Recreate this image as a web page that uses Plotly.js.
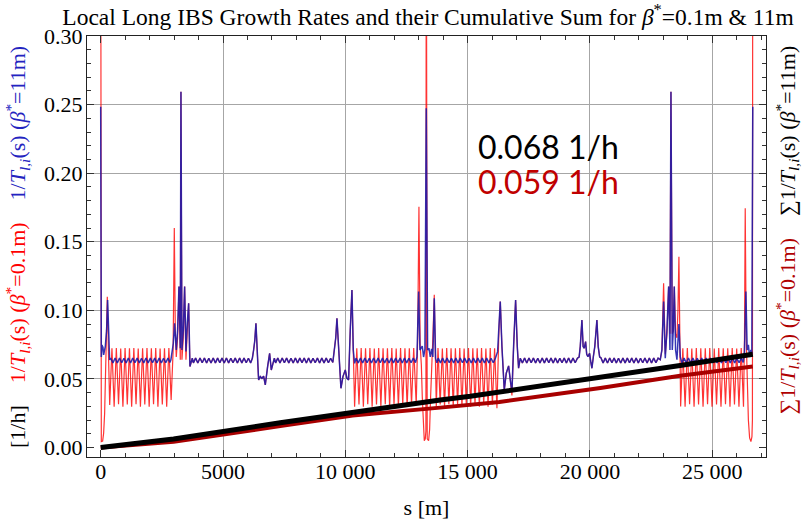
<!DOCTYPE html>
<html><head><meta charset="utf-8">
<script src="https://cdn.plot.ly/plotly-3.0.1.min.js"></script>
<style>html,body{margin:0;padding:0;background:#fff}#chart{width:802px;height:520px}</style>
</head><body><div id="chart"></div>
<script>
// ---------- beta*=11m local growth rate (blue), by lattice section ----------
const sB_ip1a = [0,25,52,93,120,188,240,283,338,365];
const yB_ip1a = [0.2485,0.066,0.0748,0.073,0.0675,0.0736,0.085,0.1076,0.0736,0.0639];
const sB_arc12 = [410,500,590,680,770,860,950,1040,1130,1220,1310,1400,1490,1580,1670,1760,1850,1940,2030,2120,2210,2300,2390,2480,2570,2660,2750,2830];
const yB_arc12 = [0.0652,0.0617,0.0653,0.0616,0.0652,0.0618,0.0651,0.0617,0.0653,0.0616,0.0652,0.0618,0.0652,0.0617,0.0651,0.0616,0.0653,0.0617,0.0652,0.0618,0.0652,0.0616,0.0653,0.0617,0.0651,0.0618,0.0652,0.0620];
const sB_ir2 = [2870,2913,2970,3022,3090,3145,3200,3254,3281,3322,3377,3431,3486,3540,3595,3649,3704,3745];
const yB_ir2 = [0.064,0.0697,0.076,0.0906,0.0711,0.0857,0.1173,0.0724,0.2594,0.0711,0.0857,0.1173,0.07,0.0906,0.1052,0.059,0.063,0.0652];
const sB_arc23 = [3790,3880,3970,4060,4150,4240,4330,4420,4510,4600,4690,4780,4870,4960,5050,5140,5230,5320,5410,5500,5590,5680,5770,5860,5950,6040,6130,6200];
const yB_arc23 = [0.0617,0.0652,0.0616,0.0653,0.0618,0.0652,0.0617,0.0651,0.0616,0.0653,0.0617,0.0652,0.0618,0.0652,0.0616,0.0653,0.0617,0.0651,0.0618,0.0652,0.0616,0.0653,0.0617,0.0652,0.0618,0.0651,0.0617,0.0650];
const sB_ir3 = [6252,6300,6347,6402,6456,6524,6592,6660,6729,6824,6906,6974,7040,7100];
const yB_ir3 = [0.0711,0.078,0.0906,0.071,0.0493,0.0517,0.0505,0.052,0.0456,0.059,0.0687,0.0565,0.062,0.0652];
const sB_arc34 = [7150,7240,7330,7420,7510,7600,7690,7780,7870,7960,8050,8140,8230,8320,8410,8500,8590,8680,8770,8860,8950,9040,9130,9220,9310,9400,9490];
const yB_arc34 = [0.0617,0.0652,0.0616,0.0653,0.0618,0.0652,0.0617,0.0651,0.0616,0.0653,0.0617,0.0652,0.0618,0.0652,0.0616,0.0653,0.0617,0.0651,0.0618,0.0652,0.0616,0.0653,0.0617,0.0652,0.0618,0.0651,0.0620];
const sB_ir4 = [9563,9610,9659,9727,9822,9904,9999,10067,10135,10203,10272,10326];
const yB_ir4 = [0.0711,0.08,0.0942,0.0711,0.0432,0.0517,0.0566,0.0505,0.0493,0.0857,0.1149,0.0711];
const sB_arc45 = [10381,10440,10530,10620,10710,10800,10890,10980,11070,11160,11250,11340,11430,11520,11610,11700,11790,11880,11970,12060,12150,12240,12330,12420,12510,12600,12690,12780,12870];
const yB_arc45 = [0.0614,0.0652,0.0617,0.0653,0.0616,0.0652,0.0618,0.0651,0.0617,0.0653,0.0616,0.0652,0.0618,0.0652,0.0617,0.0651,0.0616,0.0653,0.0617,0.0652,0.0618,0.0652,0.0616,0.0653,0.0617,0.0651,0.0618,0.0652,0.0619];
const sB_ip5 = [12930,12998,13052,13100,13147,13201,13256,13310,13365,13419,13474,13528,13580,13638,13692,13747];
const yB_ip5 = [0.066,0.1137,0.0711,0.0724,0.074,0.066,0.0717,0.2473,0.0711,0.0724,0.066,0.072,0.066,0.1088,0.065,0.0617];
const sB_arc56 = [13800,13890,13980,14070,14160,14250,14340,14430,14520,14610,14700,14790,14880,14970,15060,15150,15240,15330,15420,15510,15600,15690,15780,15870,15960,16050,16140];
const yB_arc56 = [0.0652,0.0617,0.0653,0.0616,0.0652,0.0618,0.0651,0.0617,0.0653,0.0616,0.0652,0.0618,0.0652,0.0617,0.0651,0.0616,0.0653,0.0617,0.0652,0.0618,0.0652,0.0616,0.0653,0.0617,0.0651,0.0618,0.0652];
const sB_ir6 = [16227,16281,16336,16404,16499,16581,16677,16745,16813,16881,16963,17031,17085,17154];
const yB_ir6 = [0.0699,0.0857,0.1064,0.0736,0.042,0.0542,0.0595,0.0493,0.0408,0.0736,0.1076,0.0736,0.0578,0.0651];
const sB_arc67 = [17240,17330,17420,17510,17600,17690,17780,17870,17960,18050,18140,18230,18320,18410,18500,18590,18680,18770,18860,18950,19040,19130,19220,19310,19400,19490];
const yB_arc67 = [0.0617,0.0652,0.0616,0.0653,0.0618,0.0652,0.0617,0.0651,0.0616,0.0653,0.0617,0.0652,0.0618,0.0652,0.0616,0.0653,0.0617,0.0651,0.0618,0.0652,0.0616,0.0653,0.0617,0.0652,0.0618,0.0651];
const sB_ir7 = [19560,19606,19674,19724,19770,19824,19870,19920,19988,20040,20083,20140,20200,20287,20340,20400,20450];
const yB_ir7 = [0.066,0.0736,0.093,0.0736,0.0724,0.0772,0.068,0.0663,0.0687,0.062,0.0578,0.066,0.0736,0.093,0.0736,0.066,0.0655];
const sB_arc78 = [20540,20630,20720,20810,20900,20990,21080,21170,21260,21350,21440,21530,21620,21710,21800,21890,21980,22070,22160,22250,22340,22430,22520,22610,22700,22790];
const yB_arc78 = [0.0617,0.0652,0.0616,0.0653,0.0618,0.0652,0.0617,0.0651,0.0616,0.0653,0.0617,0.0652,0.0618,0.0652,0.0616,0.0653,0.0617,0.0651,0.0618,0.0652,0.0616,0.0653,0.0617,0.0652,0.0618,0.0651];
const sB_ir8 = [22877,22945,23014,23082,23150,23219,23273,23314,23368,23410,23450,23504,23559,23600,23640,23695,23764];
const yB_ir8 = [0.064,0.0711,0.1064,0.0651,0.0857,0.1173,0.0711,0.2594,0.0711,0.0857,0.1173,0.0711,0.064,0.08,0.09,0.066,0.0617];
const sB_arc81 = [23850,23940,24030,24120,24210,24300,24390,24480,24570,24660,24750,24840,24930,25020,25110,25200,25290,25380,25470,25560,25650,25740,25830,25920,26010,26100,26190,26270];
const yB_arc81 = [0.0652,0.0617,0.0653,0.0616,0.0652,0.0618,0.0651,0.0617,0.0653,0.0616,0.0652,0.0618,0.0652,0.0617,0.0651,0.0616,0.0653,0.0617,0.0652,0.0618,0.0652,0.0616,0.0653,0.0617,0.0651,0.0618,0.0652,0.0620];
const sB_ip1b = [26320,26378,26430,26480,26530,26580,26620,26659];
const yB_ip1b = [0.07,0.1137,0.0711,0.0748,0.066,0.0711,0.068,0.2485];

// ---------- beta*=0.1m local growth rate (red): sections that differ from beta*=11m ----------
const sR_ip1a = [0,25,79,120,161,202,243,270,311,338,368];
const yR_ip1a = [0.45,0.0043,0.0047,0.0104,0.025,0.0542,0.093,0.11,0.0736,0.042,0.031];
const sR_arc12 = [460,550,639,729,818,908,997,1087,1176,1266,1355,1445,1534,1624,1713,1803,1892,1982,2071,2161,2250,2340,2429,2519,2608,2698,2787,2880];
const yR_arc12 = [0.0724,0.0298,0.0726,0.0315,0.0722,0.0298,0.0725,0.0314,0.0723,0.0297,0.0726,0.0315,0.0722,0.0298,0.0724,0.0313,0.0725,0.0298,0.0723,0.0315,0.0726,0.0297,0.0722,0.0314,0.0724,0.0298,0.0725,0.0347];
const sR_ir2 = [2960,3009,3050,3090,3145,3200,3254,3281,3322,3377,3431,3486,3540,3595,3649,3704,3745];
const yR_ir2 = [0.07,0.16,0.085,0.066,0.08,0.1173,0.064,0.2594,0.064,0.08,0.1173,0.064,0.085,0.1052,0.059,0.063,0.0652];
const sR_arc45 = [10381,10470,10560,10649,10739,10828,10918,11007,11097,11186,11276,11365,11455,11544,11634,11723,11813,11902,11992,12081,12171,12260,12350,12439,12529,12618,12708,12797,12900];
const yR_arc45 = [0.0298,0.0724,0.0314,0.0726,0.0298,0.0723,0.0315,0.0725,0.0297,0.0722,0.0314,0.0726,0.0298,0.0724,0.0315,0.0723,0.0298,0.0725,0.0313,0.0722,0.0298,0.0726,0.0315,0.0724,0.0297,0.0723,0.0314,0.0725,0.031];
const sR_ip5 = [12960,13011,13060,13110,13147,13188,13229,13270,13296,13310,13324,13350,13406,13447,13488,13528,13580,13638,13680,13720];
const yR_ip5 = [0.08,0.1756,0.075,0.06,0.037,0.013,0.005,0.0063,0.012,0.45,0.012,0.0063,0.005,0.013,0.037,0.064,0.08,0.1113,0.07,0.0298];
const sR_arc56 = [13790,13879,13968,14057,14146,14235,14324,14413,14502,14591,14680,14769,14858,14947,15036,15125,15214,15303,15392,15481,15570,15659,15748,15837,15926,16015,16104,16200];
const yR_arc56 = [0.0725,0.0314,0.0722,0.0298,0.0726,0.0315,0.0723,0.0297,0.0724,0.0314,0.0725,0.0298,0.0722,0.0315,0.0726,0.0298,0.0723,0.0314,0.0724,0.0297,0.0725,0.0315,0.0722,0.0298,0.0726,0.0314,0.0723,0.0286];
const sR_ir6 = [16281,16336,16404,16499,16581,16677,16745,16813,16881,16963,17031,17085,17154];
const yR_ir6 = [0.0857,0.1064,0.0736,0.042,0.0542,0.0595,0.0493,0.038,0.0736,0.1076,0.0736,0.0578,0.0651];
const sR_ir8 = [22877,22945,23014,23082,23150,23219,23273,23314,23368,23410,23450,23504,23559,23600,23640,23710];
const yR_ir8 = [0.064,0.0711,0.1198,0.068,0.083,0.1173,0.083,0.2594,0.083,0.085,0.1173,0.083,0.08,0.1,0.139,0.03];
const sR_arc81 = [23800,23892,23984,24076,24167,24259,24351,24443,24534,24626,24718,24810,24901,24993,25085,25177,25268,25360,25452,25544,25635,25727,25819,25911,26002,26094,26186,26280];
const yR_arc81 = [0.0723,0.0298,0.0725,0.0315,0.0722,0.0297,0.0726,0.0314,0.0724,0.0298,0.0723,0.0315,0.0725,0.0298,0.0722,0.0314,0.0726,0.0297,0.0724,0.0315,0.0723,0.0298,0.0725,0.0314,0.0722,0.0298,0.0726,0.0298];
const sR_ip1b = [26320,26351,26390,26430,26480,26530,26583,26625,26645,26659];
const yR_ip1b = [0.08,0.1745,0.08,0.045,0.02,0.007,0.0043,0.008,0.02,0.45];

// ---------- cumulative sums ----------
const sCum = [0,2980,7340,10300,13880,15110,16300,20430,22060,23690,26659];
const yCum11 = [0,0.0062,0.0181,0.0258,0.0347,0.0374,0.0404,0.0507,0.0548,0.0598,0.068];
const yCum01 = [0,0.0043,0.0156,0.0233,0.0291,0.031,0.0332,0.0434,0.0482,0.0524,0.059];

// ---------- axes ticks / labels ----------
const xTickVals = [0,5000,10000,15000,20000,25000];
const xTickText = ['0','5000','10 000','15 000','20 000','25 000'];
const xGridVals = [5000,10000,15000,20000,25000];
const yTickVals = [0,0.05,0.10,0.15,0.20,0.25,0.30];
const yTickText = ['0.00','0.05','0.10','0.15','0.20','0.25','0.30'];
const yGridVals = [0.05,0.10,0.15,0.20,0.25];
const totals = ['0.068 1/h','0.059 1/h'];

const sBlue = [].concat(sB_ip1a,sB_arc12,sB_ir2,sB_arc23,sB_ir3,sB_arc34,sB_ir4,sB_arc45,sB_ip5,sB_arc56,sB_ir6,sB_arc67,sB_ir7,sB_arc78,sB_ir8,sB_arc81,sB_ip1b);
const yBlue = [].concat(yB_ip1a,yB_arc12,yB_ir2,yB_arc23,yB_ir3,yB_arc34,yB_ir4,yB_arc45,yB_ip5,yB_arc56,yB_ir6,yB_arc67,yB_ir7,yB_arc78,yB_ir8,yB_arc81,yB_ip1b);
const sRed = [].concat(sR_ip1a,sR_arc12,sR_ir2,sB_arc23,sB_ir3,sB_arc34,sB_ir4,sR_arc45,sR_ip5,sR_arc56,sR_ir6,sB_arc67,sB_ir7,sB_arc78,sR_ir8,sR_arc81,sR_ip1b);
const yRed = [].concat(yR_ip1a,yR_arc12,yR_ir2,yB_arc23,yB_ir3,yB_arc34,yB_ir4,yR_arc45,yR_ip5,yR_arc56,yR_ir6,yB_arc67,yB_ir7,yB_arc78,yR_ir8,yR_arc81,yR_ip1b);

const SERIF = 'Liberation Serif, Times New Roman, serif';
const XR = [-560, 27200];
const YR = [-0.0069, 0.300];
const T = '1/<i>T</i><sub><i>l,i</i></sub>(s)';
const B = '(<i>β</i><sup>*</sup>=';
const NB = '\u00a0\u00a0\u00a0\u00a0';

const traces = [
  {x: sRed, y: yRed, type: 'scatter', mode: 'lines', xaxis: 'x', yaxis: 'y',
   line: {color: 'rgba(255,0,0,0.8)', width: 1.2}, hoverinfo: 'skip'},
  {x: sBlue, y: yBlue, type: 'scatter', mode: 'lines', xaxis: 'x', yaxis: 'y',
   line: {color: 'rgba(25,25,170,0.88)', width: 1.5}, hoverinfo: 'skip'},
  {x: sCum, y: yCum01, type: 'scatter', mode: 'lines', xaxis: 'x2', yaxis: 'y2',
   line: {color: '#a80000', width: 4}, hoverinfo: 'skip'},
  {x: sCum, y: yCum11, type: 'scatter', mode: 'lines', xaxis: 'x2', yaxis: 'y2',
   line: {color: '#000000', width: 5}, hoverinfo: 'skip'}
];

const tickCommon = {
  ticks: 'inside', ticklen: 7, tickwidth: 1, tickcolor: '#333',
  showline: true, linecolor: '#222', linewidth: 1, mirror: 'ticks',
  showgrid: false, zeroline: false,
  tickfont: {family: SERIF, size: 22, color: '#000'}
};

const layout = {
  width: 802, height: 520,
  margin: {l: 87, r: 36, t: 36, b: 63, pad: 0},
  paper_bgcolor: '#ffffff', plot_bgcolor: '#ffffff',
  showlegend: false,
  hovermode: false,
  title: {
    text: 'Local Long IBS Growth Rates and their Cumulative Sum for <i>β</i><sup>*</sup>=0.1m &amp; 11m',
    font: {family: SERIF, size: 23.5, color: '#000'},
    xref: 'container', x: 428/802, xanchor: 'center',
    yref: 'container', y: 1 - 17/520, yanchor: 'middle'
  },
  xaxis: Object.assign({}, tickCommon, {
    range: XR, tickmode: 'array', tickvals: xTickVals, ticktext: xTickText,
    minor: {tickmode: 'linear', tick0: 0, dtick: 1000, ticks: 'inside', ticklen: 4, tickcolor: '#333', showgrid: false},
    ticklabelstandoff: -5,
    title: {text: 's [m]', font: {family: SERIF, size: 22, color: '#000'}, standoff: 20},
    automargin: false
  }),
  yaxis: Object.assign({}, tickCommon, {
    range: YR, tickmode: 'array', tickvals: yTickVals, ticktext: yTickText,
    minor: {tickmode: 'linear', tick0: 0, dtick: 0.01, ticks: 'inside', ticklen: 4, tickcolor: '#333', showgrid: false},
    ticklabelstandoff: -1,
    automargin: false
  }),
  xaxis2: {
    overlaying: 'x', anchor: 'y2', range: XR, tickmode: 'array', tickvals: xGridVals,
    showgrid: true, gridcolor: '#a6a6a6', gridwidth: 1, ticks: '', showticklabels: false,
    showline: false, zeroline: false
  },
  yaxis2: {
    overlaying: 'y', anchor: 'x2', side: 'right', range: YR, tickmode: 'array', tickvals: yGridVals,
    showgrid: true, gridcolor: '#a6a6a6', gridwidth: 1, ticks: '', showticklabels: false,
    showline: false, zeroline: false
  },
  annotations: [
    {xref: 'paper', yref: 'paper', x: (17-87)/679, y: (457-247)/421, xanchor: 'center', yanchor: 'middle',
     textangle: -90, showarrow: false, font: {family: SERIF, size: 22, color: '#000'},
     text: '[1/h]' + NB + '<span style="color:#ff0000">' + T + ' ' + B + '0.1m)</span>' + NB +
           '<span style="color:#2323c0">' + T + ' ' + B + '11m)</span>'},
    {xref: 'paper', yref: 'paper', x: (786.5-87)/679, y: (457-230)/421, xanchor: 'center', yanchor: 'middle',
     textangle: -90, showarrow: false, font: {family: SERIF, size: 22, color: '#000'},
     text: '<span style="color:#b00000">∑' + T + ' ' + B + '0.1m)</span>' + NB +
           '∑' + T + ' ' + B + '11m)'},
    {xref: 'x', yref: 'y', x: 15355, y: 0.2195, xanchor: 'left', yanchor: 'middle', showarrow: false,
     font: {family: 'Lato, Open Sans, sans-serif', size: 32, color: '#000'}, text: totals[0]},
    {xref: 'x', yref: 'y', x: 15355, y: 0.194, xanchor: 'left', yanchor: 'middle', showarrow: false,
     font: {family: 'Lato, Open Sans, sans-serif', size: 32, color: '#c00000'}, text: totals[1]}
  ]
};

Plotly.newPlot('chart', traces, layout, {staticPlot: true, displayModeBar: false});
</script></body></html>
